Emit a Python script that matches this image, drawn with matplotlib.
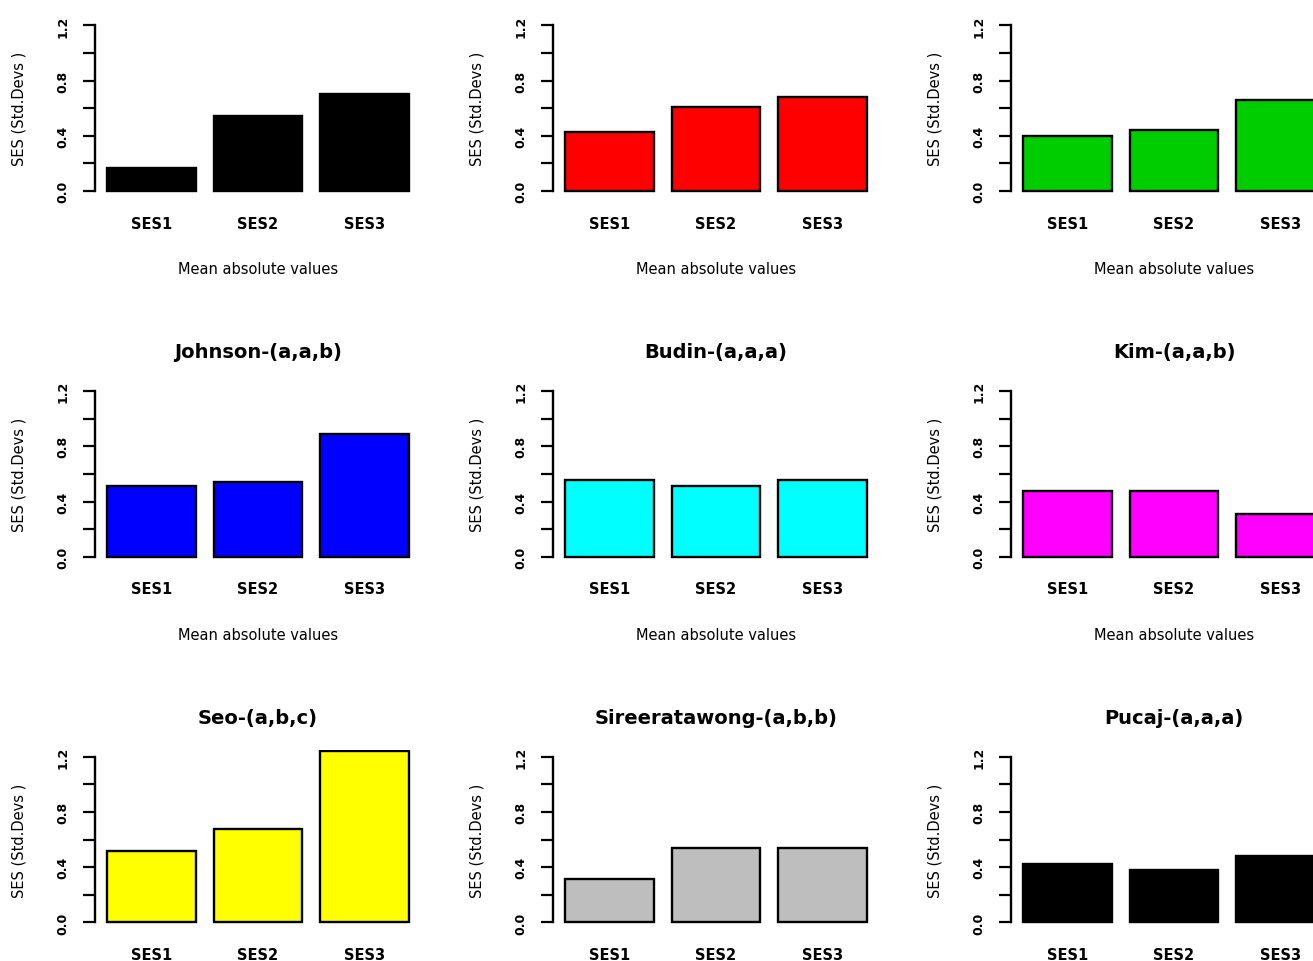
import matplotlib
matplotlib.use("Agg")
import matplotlib.pyplot as plt
from matplotlib.ticker import FixedLocator

categories = ["SES1", "SES2", "SES3"]
titles = ["", "", "",
          "Johnson-(a,a,b)", "Budin-(a,a,a)", "Kim-(a,a,b)",
          "Seo-(a,b,c)", "Sireeratawong-(a,b,b)", "Pucaj-(a,a,a)"]
colors = ["#000000", "#FF0000", "#00CD00",
          "#0000FF", "#00FFFF", "#FF00FF",
          "#FFFF00", "#BEBEBE", "#000000"]
values_r1c1 = [0.17, 0.54, 0.70]
values_r1c2 = [0.43, 0.61, 0.68]
values_r1c3 = [0.40, 0.445, 0.66]
values_johnson = [0.515, 0.54, 0.89]
values_budin = [0.553, 0.51, 0.553]
values_kim = [0.476, 0.476, 0.307]
values_seo = [0.52, 0.68, 1.24]
values_siree = [0.315, 0.54, 0.54]
values_pucaj = [0.42, 0.38, 0.48]
all_values = [values_r1c1, values_r1c2, values_r1c3,
              values_johnson, values_budin, values_kim,
              values_seo, values_siree, values_pucaj]
ytick_major = [0.0, 0.4, 0.8, 1.2]
ytick_labels = ["0.0", "0.4", "0.8", "1.2"]
ytick_minor = [0.2, 0.6, 1.0]
ylabel = "SES (Std.Devs )"
xlabel = "Mean absolute values"

W, H = 1313, 962
fig = plt.figure(figsize=(W / 100, H / 100), dpi=100)

col_left = [95, 553, 1011]
row_zero = [192, 557.7, 923.4]
px_x = 88.8
px_y = 138.0
xlo, xhi = 0.064, 3.736
ylo, yhi = -0.048, 1.248
centers = [0.7, 1.9, 3.1]

for i in range(9):
    r, c = divmod(i, 3)
    L = col_left[c]
    wpx = (xhi - xlo) * px_x
    hpx = (yhi - ylo) * px_y
    top_px = row_zero[r] - yhi * px_y
    ax = fig.add_axes([L / W, (H - top_px - hpx) / H, wpx / W, hpx / H])
    ax.bar(centers, all_values[i], width=1.0, color=colors[i],
           edgecolor="black", linewidth=1.7)
    ax.set_xlim(xlo, xhi)
    ax.set_ylim(ylo, yhi)
    for s in ["top", "right", "bottom"]:
        ax.spines[s].set_visible(False)
    ax.spines["left"].set_bounds(0, 1.2)
    ax.spines["left"].set_linewidth(1.7)
    ax.yaxis.set_major_locator(FixedLocator(ytick_major))
    ax.yaxis.set_minor_locator(FixedLocator(ytick_minor))
    ax.set_yticklabels(ytick_labels, rotation=90, va="center",
                       fontsize=9, fontweight="bold", family="DejaVu Sans")
    ax.tick_params(axis="y", which="both", length=8.6, width=1.6, pad=10)
    ax.set_xticks(centers)
    ax.set_xticklabels(categories, fontsize=10.5, fontweight="bold",
                       family="DejaVu Sans")
    ax.tick_params(axis="x", length=0, pad=13)
    ax.set_ylabel(ylabel, fontsize=10.5, family="DejaVu Sans", va="center")
    ax.yaxis.set_label_coords(-76 / wpx, 0.5)
    ax.set_xlabel(xlabel, fontsize=10.5, family="DejaVu Sans", va="center")
    ax.xaxis.set_label_coords(0.5, -(row_zero[r] + 78 - (row_zero[r] + 0.048 * px_y)) / hpx)
    if titles[i]:
        ax.set_title(titles[i], fontsize=14, fontweight="bold",
                     family="DejaVu Sans", y=1 + 33 / hpx, va="center", pad=0)

fig.savefig("out.png", dpi=100)
